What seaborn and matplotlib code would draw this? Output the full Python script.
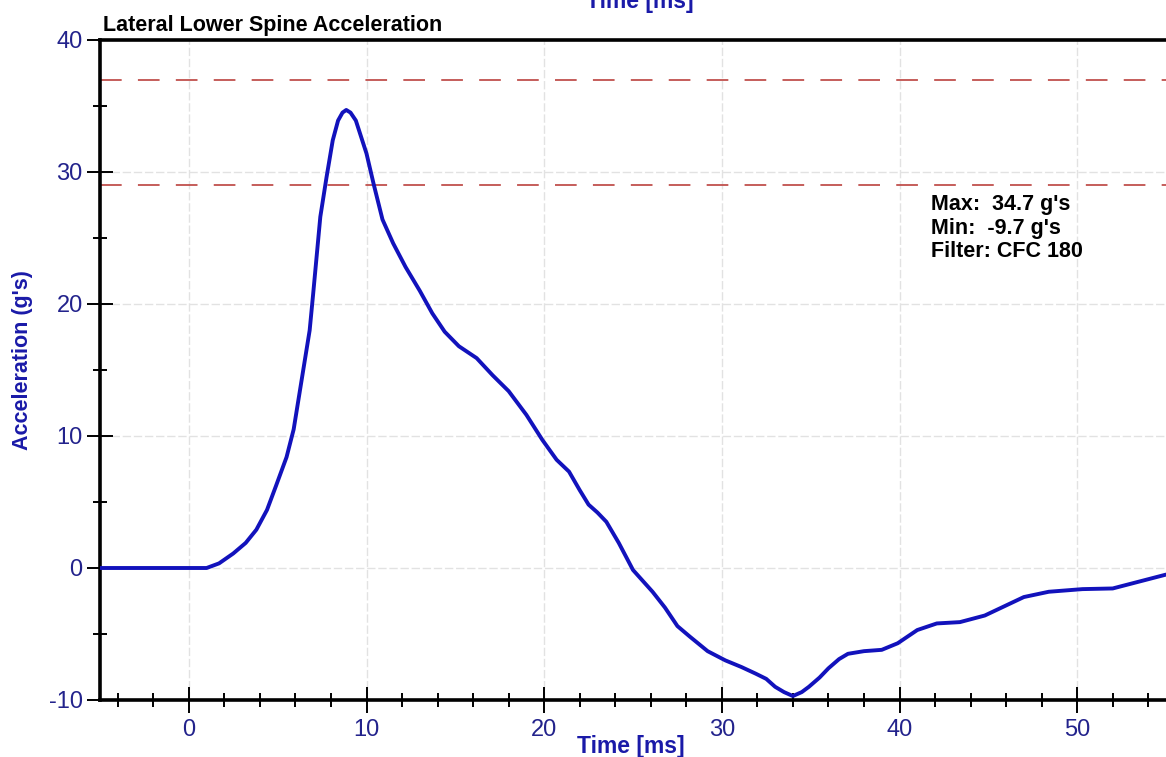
import numpy as np
import pandas as pd
import matplotlib
matplotlib.use("Agg")
import matplotlib.pyplot as plt
from matplotlib.ticker import MultipleLocator
import seaborn as sns

# ---- data ----
time_ms = [-5, -2, 0, 1.0, 1.2, 1.7, 2.5, 3.2, 3.8, 4.4, 4.9, 5.5, 5.9, 6.2,
           6.5, 6.8, 7.0, 7.4, 7.75, 8.1, 8.4, 8.65, 8.86, 9.1, 9.4, 10.0,
           10.4, 10.9, 11.5, 12.2, 13.0, 13.7, 14.4, 15.2, 16.2, 17.1, 18.0,
           19.0, 19.9, 20.7, 21.4, 22.0, 22.5, 23.0, 23.5, 24.2, 25.0, 26.1,
           26.8, 27.5, 28.2, 29.2, 30.2, 31.1, 31.9, 32.5, 33.0, 33.5, 34.0,
           34.5, 34.9, 35.5, 36.0, 36.6, 37.1, 38.0, 39.0, 39.9, 41.0, 42.1,
           43.4, 44.8, 45.9, 47.0, 48.4, 50.3, 52.0, 53.0, 55.0]
accel_g = [0.0, 0.0, 0.0, 0.0, 0.1, 0.35, 1.1, 1.9, 2.9, 4.4, 6.2, 8.4, 10.5,
           13.0, 15.5, 18.0, 20.8, 26.6, 29.6, 32.4, 33.9, 34.5, 34.7, 34.5,
           33.9, 31.4, 29.1, 26.4, 24.6, 22.8, 21.0, 19.3, 17.9, 16.8, 15.9,
           14.6, 13.4, 11.6, 9.7, 8.2, 7.3, 5.9, 4.8, 4.2, 3.5, 1.9, -0.15,
           -1.8, -3.0, -4.4, -5.2, -6.3, -7.0, -7.5, -8.0, -8.4, -9.0, -9.4,
           -9.7, -9.4, -9.0, -8.3, -7.6, -6.9, -6.5, -6.3, -6.2, -5.7, -4.7,
           -4.2, -4.1, -3.6, -2.9, -2.2, -1.8, -1.6, -1.55, -1.2, -0.5]
limit_lines = [37, 29]
stats_text = ["Max:  34.7 g's", "Min:  -9.7 g's", "Filter: CFC 180"]

df = pd.DataFrame({"time": time_ms, "accel": accel_g})

sns.set_theme(style="white")
plt.rcParams["font.family"] = ["Liberation Sans", "DejaVu Sans"]
plt.rcParams["axes.unicode_minus"] = False

LINE_BLUE = "#1212bc"
LABEL_BLUE = "#1a1aa8"
TICK_BLUE = "#23238c"

W, H = 1166, 757
fig = plt.figure(figsize=(W / 100, H / 100), dpi=100)
ax = fig.add_axes([100 / W, 57 / H, 1066 / W, 660 / H])

# limit lines
for lv in limit_lines:
    ax.axhline(lv, color="#c0504d", lw=1.3, ls=(0, (12, 9)), zorder=2)

sns.lineplot(data=df, x="time", y="accel", ax=ax, color=LINE_BLUE,
             lw=2.8, zorder=3, solid_joinstyle="round",
             solid_capstyle="round")

ax.set_xlim(-5, 55)
ax.set_ylim(-10, 40)
ax.xaxis.set_major_locator(MultipleLocator(10))
ax.xaxis.set_minor_locator(MultipleLocator(2))
ax.yaxis.set_major_locator(MultipleLocator(10))
ax.yaxis.set_minor_locator(MultipleLocator(5))

ax.grid(True, which="major", color="#e2e2e2", lw=1.0, ls=(0, (6, 2)))
ax.tick_params(which="both", bottom=True, left=True, top=False, right=False)
ax.tick_params(which="major", direction="inout", length=19, width=1.4,
               color="black", labelsize=17, labelcolor=TICK_BLUE)
ax.tick_params(which="minor", direction="inout", length=10, width=1.4,
               color="black")
ax.tick_params(axis="x", which="major", pad=4)
ax.tick_params(axis="y", which="major", pad=3)

for side in ["left", "bottom", "top"]:
    ax.spines[side].set_visible(True)
    ax.spines[side].set_color("black")
    ax.spines[side].set_linewidth(2.6)
ax.spines["right"].set_visible(False)

ax.set_xlabel("")
ax.set_ylabel("")

# labels
fig.text(23 / W, 1 - 360 / H, "Acceleration (g's)", rotation=90,
         ha="center", va="center", fontsize=15.5, fontweight="bold",
         color=LABEL_BLUE)
fig.text(631 / W, 1 - 753 / H, "Time [ms]", ha="center", va="baseline",
         fontsize=16.5, fontweight="bold", color=LABEL_BLUE)
fig.text(640 / W, 1 - 8 / H, "Time [ms]", ha="center", va="baseline",
         fontsize=16.5, fontweight="bold", color=LABEL_BLUE)
fig.text(103 / W, 1 - 31 / H, "Lateral Lower Spine Acceleration",
         ha="left", va="baseline", fontsize=15.5, fontweight="bold",
         color="black")

ax.text(41.8, 28.3, "\n".join(stats_text), ha="left", va="top",
        fontsize=15.5, fontweight="bold", color="black", linespacing=1.15)

fig.savefig("out.png", dpi=100)
